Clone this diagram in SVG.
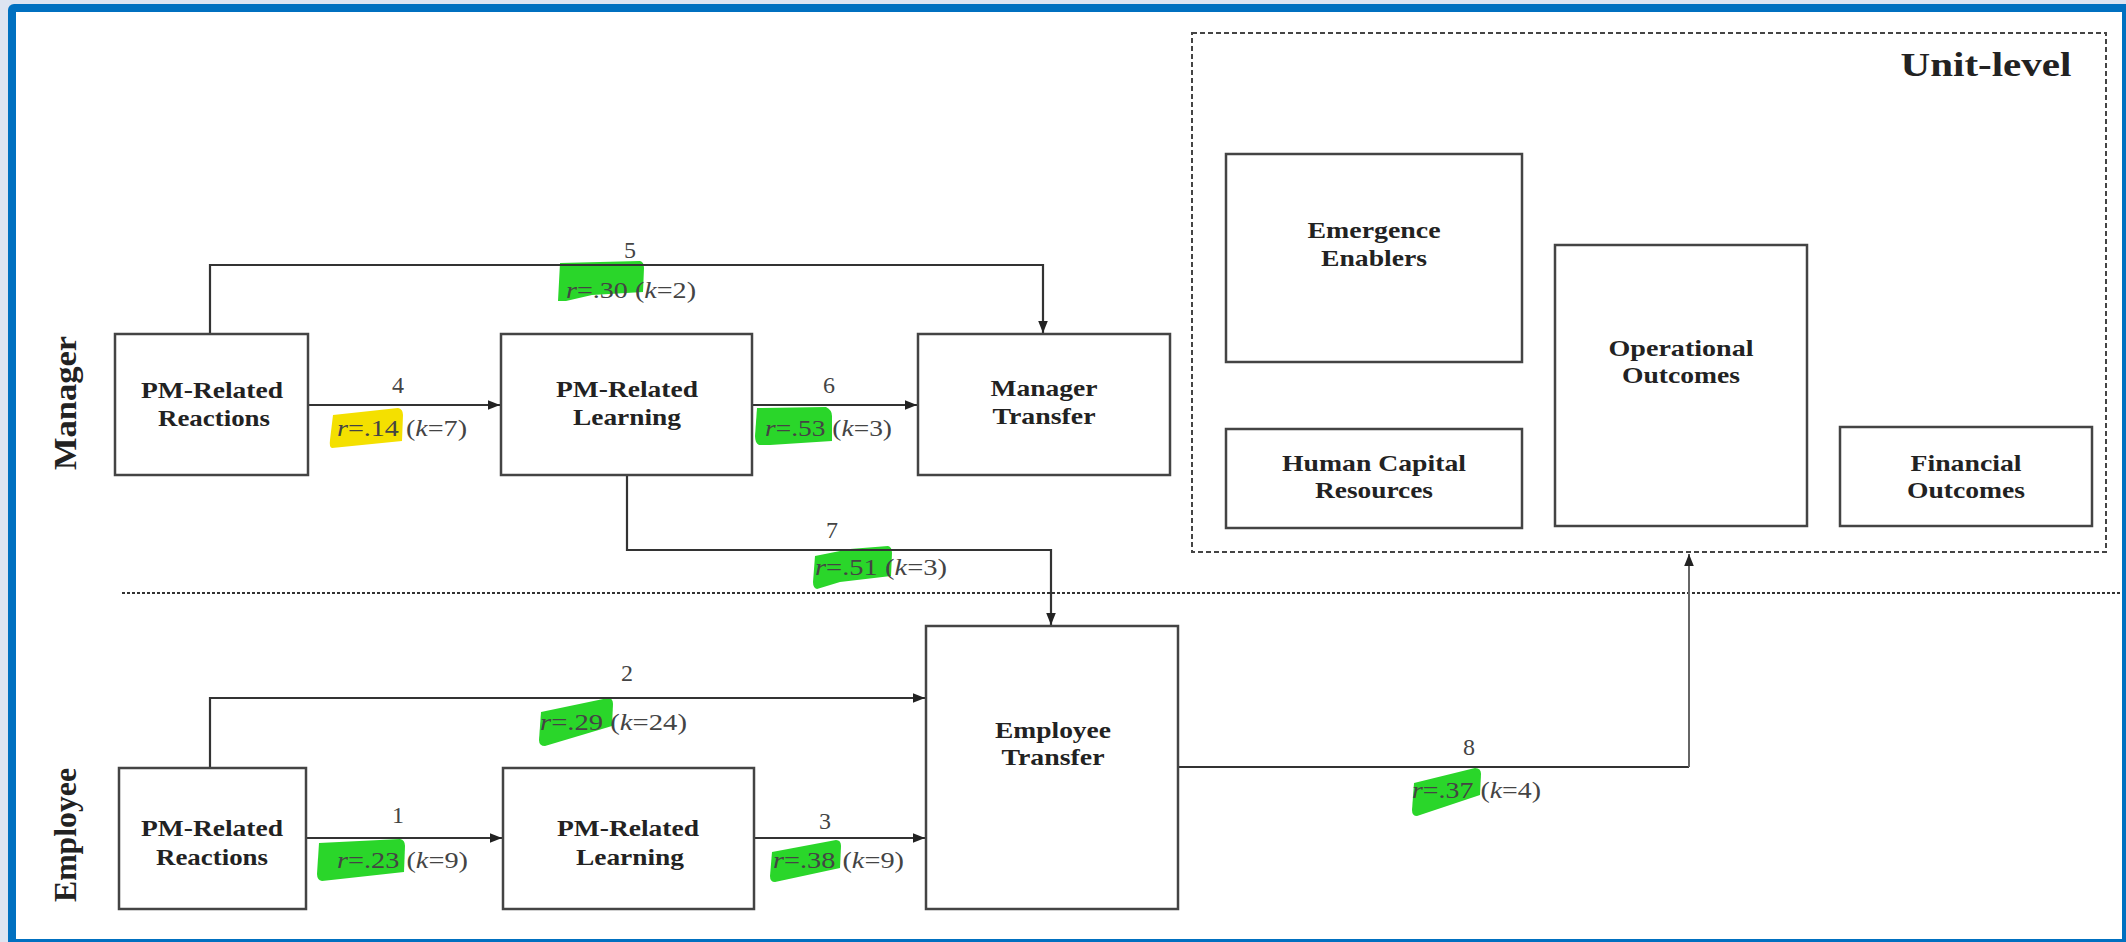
<svg xmlns="http://www.w3.org/2000/svg" width="2126" height="942" viewBox="0 0 2126 942">
  <style>
    .box { fill: #ffffff; stroke: #444444; stroke-width: 2.5; }
    .nl { font-family: "Liberation Serif", "Times New Roman", serif; font-weight: bold; font-size: 24px; fill: #222222; text-anchor: middle; }
    .side { font-family: "Liberation Serif", "Times New Roman", serif; font-weight: bold; font-size: 32px; fill: #222222; text-anchor: middle; }
    .num { font-family: "Liberation Serif", "Times New Roman", serif; font-size: 24px; fill: #444444; text-anchor: middle; }
    .el { font-family: "Liberation Serif", "Times New Roman", serif; font-size: 24px; fill: #444444; }
    .it { font-style: italic; }
    .wire { fill: none; stroke: #333333; stroke-width: 2.2; }
    .wire2 { fill: none; stroke: #666666; stroke-width: 2; }
    .hl { fill: #2ad62a; }
    .hly { fill: #f4e000; }
  </style>
  <defs>
    <marker id="arr" viewBox="0 0 10 8" refX="10" refY="4" markerWidth="12" markerHeight="10" markerUnits="userSpaceOnUse" orient="auto">
      <path d="M0,0 L10,4 L0,8 z" fill="#222222"/>
    </marker>
  </defs>

  <!-- page frame -->
  <rect x="0" y="0" width="2126" height="942" fill="#dde4f1"/>
  <rect x="8" y="4" width="2130" height="950" rx="6" fill="#0070c0"/>
  <rect x="16" y="12" width="2106" height="927" fill="#ffffff"/>

  <!-- unit-level container -->
  <g id="unit-level">
    <rect x="1192" y="33" width="914" height="519" fill="none" stroke="#444444" stroke-width="2" stroke-dasharray="5 3"/>
    <text x="1986" y="76" class="nl" font-size="34" style="font-size:34px" textLength="171" lengthAdjust="spacingAndGlyphs">Unit-level</text>
  </g>

  <!-- level divider -->
  <line x1="122" y1="593" x2="2122" y2="593" stroke="#333333" stroke-width="2" stroke-dasharray="3 2"/>

  <!-- side labels -->
  <text class="side" transform="translate(76,403) rotate(-90)" textLength="134" lengthAdjust="spacingAndGlyphs">Manager</text>
  <text class="side" transform="translate(76,835) rotate(-90)" textLength="134" lengthAdjust="spacingAndGlyphs">Employee</text>

  <!-- highlights behind the effect sizes -->
  <g id="highlights">
    <path class="hl" d="M560,263 L640,261 Q644,262 644,268 L643,292 L592,295 L566,301 L558,301 Z"/>
    <path class="hly" d="M333,415 L398,408 Q403,409 403,415 L402,441 L332,448 Q329,447 330,440 Z"/>
    <path class="hl" d="M757,408 L826,407 Q832,410 832,416 L832,441 L770,445 L759,445 Q755,443 755,436 Z"/>
    <path class="hl" d="M815,556 L850,549 L888,546 Q892,547 892,553 L891,576 L840,582 L817,589 Q813,588 813,582 Z"/>
    <path class="hl" d="M541,712 L608,698 Q613,698 613,704 L612,726 L545,746 Q539,746 539,740 Z"/>
    <path class="hl" d="M319,843 L400,839 Q405,840 405,846 L404,872 L322,881 Q317,880 317,874 Z"/>
    <path class="hl" d="M772,852 L836,840 Q841,840 841,846 L840,868 L775,882 Q770,882 770,876 Z"/>
    <path class="hl" d="M1414,783 L1475,768 Q1481,768 1481,774 L1480,795 L1417,816 Q1412,816 1412,810 Z"/>
  </g>

  <!-- connectors -->
  <g id="connectors">
    <path class="wire" d="M210,334 V265 H1043 V333" marker-end="url(#arr)"/>
    <path class="wire" d="M308,405 H500" marker-end="url(#arr)"/>
    <path class="wire" d="M752,405 H917" marker-end="url(#arr)"/>
    <path class="wire" d="M627,475 V550 H1051 V625" marker-end="url(#arr)"/>
    <path class="wire" d="M210,768 V698 H925" marker-end="url(#arr)"/>
    <path class="wire" d="M306,838 H502" marker-end="url(#arr)"/>
    <path class="wire" d="M754,838 H925" marker-end="url(#arr)"/>
    <path class="wire" d="M1178,767 H1689" />
    <path class="wire2" d="M1689,767 V554" marker-end="url(#arr)"/>
  </g>

  <!-- connector labels -->
  <g id="connector-labels">
    <text class="num" x="630" y="258">5</text>
    <text class="el" x="566" y="298" textLength="130" lengthAdjust="spacingAndGlyphs"><tspan class="it">r</tspan>=.30 (<tspan class="it">k</tspan>=2)</text>
    <text class="num" x="398" y="393">4</text>
    <text class="el" x="337" y="436" textLength="130" lengthAdjust="spacingAndGlyphs"><tspan class="it">r</tspan>=.14 (<tspan class="it">k</tspan>=7)</text>
    <text class="num" x="829" y="393">6</text>
    <text class="el" x="765" y="436" textLength="127" lengthAdjust="spacingAndGlyphs"><tspan class="it">r</tspan>=.53 (<tspan class="it">k</tspan>=3)</text>
    <text class="num" x="832" y="538">7</text>
    <text class="el" x="815" y="575" textLength="132" lengthAdjust="spacingAndGlyphs"><tspan class="it">r</tspan>=.51 (<tspan class="it">k</tspan>=3)</text>
    <text class="num" x="627" y="681">2</text>
    <text class="el" x="540" y="730" textLength="147" lengthAdjust="spacingAndGlyphs"><tspan class="it">r</tspan>=.29 (<tspan class="it">k</tspan>=24)</text>
    <text class="num" x="398" y="823">1</text>
    <text class="el" x="337" y="868" textLength="131" lengthAdjust="spacingAndGlyphs"><tspan class="it">r</tspan>=.23 (<tspan class="it">k</tspan>=9)</text>
    <text class="num" x="825" y="829">3</text>
    <text class="el" x="773" y="868" textLength="131" lengthAdjust="spacingAndGlyphs"><tspan class="it">r</tspan>=.38 (<tspan class="it">k</tspan>=9)</text>
    <text class="num" x="1469" y="755">8</text>
    <text class="el" x="1412" y="798" textLength="129" lengthAdjust="spacingAndGlyphs"><tspan class="it">r</tspan>=.37 (<tspan class="it">k</tspan>=4)</text>
  </g>

  <!-- manager level -->
  <g id="mgr-reactions">
    <rect class="box" x="115" y="334" width="193" height="141"/>
    <text class="nl" x="212" y="398" textLength="142" lengthAdjust="spacingAndGlyphs">PM-Related</text>
    <text class="nl" x="214" y="426" textLength="112" lengthAdjust="spacingAndGlyphs">Reactions</text>
  </g>
  <g id="mgr-learning">
    <rect class="box" x="501" y="334" width="251" height="141"/>
    <text class="nl" x="627" y="397" textLength="142" lengthAdjust="spacingAndGlyphs">PM-Related</text>
    <text class="nl" x="627" y="425" textLength="108" lengthAdjust="spacingAndGlyphs">Learning</text>
  </g>
  <g id="mgr-transfer">
    <rect class="box" x="918" y="334" width="252" height="141"/>
    <text class="nl" x="1044" y="396" textLength="107" lengthAdjust="spacingAndGlyphs">Manager</text>
    <text class="nl" x="1044" y="424" textLength="103" lengthAdjust="spacingAndGlyphs">Transfer</text>
  </g>

  <!-- employee level -->
  <g id="emp-reactions">
    <rect class="box" x="119" y="768" width="187" height="141"/>
    <text class="nl" x="212" y="836" textLength="142" lengthAdjust="spacingAndGlyphs">PM-Related</text>
    <text class="nl" x="212" y="865" textLength="112" lengthAdjust="spacingAndGlyphs">Reactions</text>
  </g>
  <g id="emp-learning">
    <rect class="box" x="503" y="768" width="251" height="141"/>
    <text class="nl" x="628" y="836" textLength="142" lengthAdjust="spacingAndGlyphs">PM-Related</text>
    <text class="nl" x="630" y="865" textLength="108" lengthAdjust="spacingAndGlyphs">Learning</text>
  </g>
  <g id="emp-transfer">
    <rect class="box" x="926" y="626" width="252" height="283"/>
    <text class="nl" x="1053" y="738" textLength="116" lengthAdjust="spacingAndGlyphs">Employee</text>
    <text class="nl" x="1053" y="765" textLength="103" lengthAdjust="spacingAndGlyphs">Transfer</text>
  </g>

  <!-- unit-level constructs -->
  <g id="emergence-enablers">
    <rect class="box" x="1226" y="154" width="296" height="208"/>
    <text class="nl" x="1374" y="238" textLength="133" lengthAdjust="spacingAndGlyphs">Emergence</text>
    <text class="nl" x="1374" y="266" textLength="106" lengthAdjust="spacingAndGlyphs">Enablers</text>
  </g>
  <g id="human-capital">
    <rect class="box" x="1226" y="429" width="296" height="99"/>
    <text class="nl" x="1374" y="471" textLength="184" lengthAdjust="spacingAndGlyphs">Human Capital</text>
    <text class="nl" x="1374" y="498" textLength="118" lengthAdjust="spacingAndGlyphs">Resources</text>
  </g>
  <g id="operational-outcomes">
    <rect class="box" x="1555" y="245" width="252" height="281"/>
    <text class="nl" x="1681" y="356" textLength="145" lengthAdjust="spacingAndGlyphs">Operational</text>
    <text class="nl" x="1681" y="383" textLength="118" lengthAdjust="spacingAndGlyphs">Outcomes</text>
  </g>
  <g id="financial-outcomes">
    <rect class="box" x="1840" y="427" width="252" height="99"/>
    <text class="nl" x="1966" y="471" textLength="111" lengthAdjust="spacingAndGlyphs">Financial</text>
    <text class="nl" x="1966" y="498" textLength="118" lengthAdjust="spacingAndGlyphs">Outcomes</text>
  </g>
</svg>
